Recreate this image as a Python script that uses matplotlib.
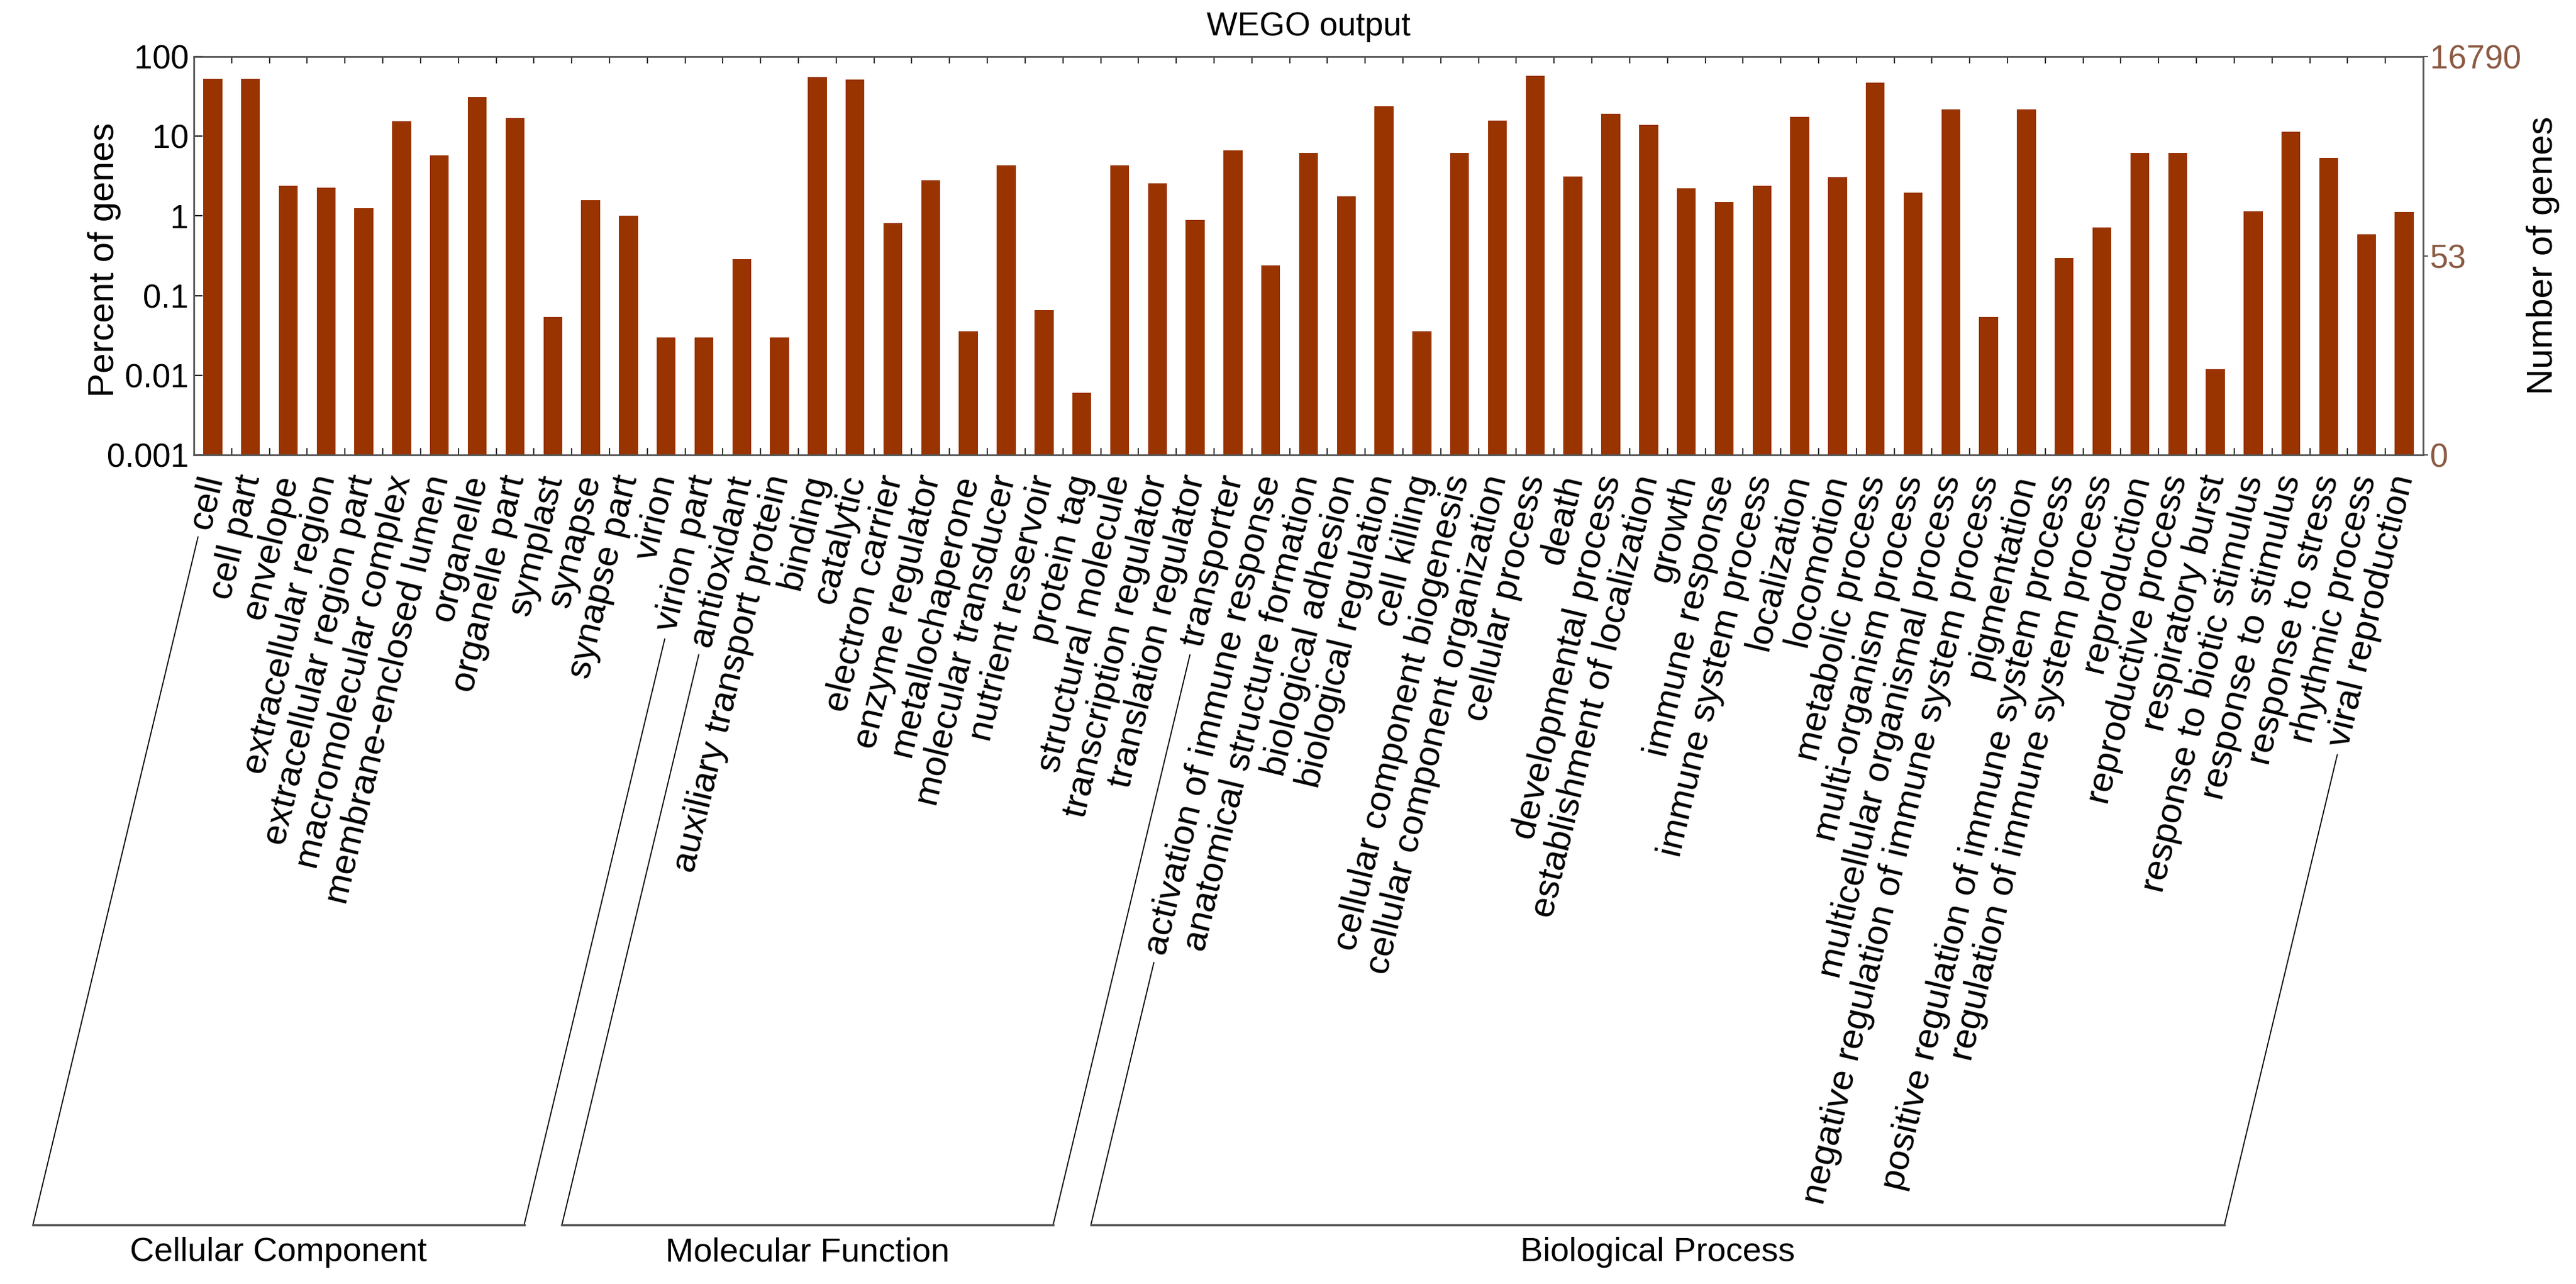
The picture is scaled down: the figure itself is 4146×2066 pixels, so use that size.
import matplotlib
matplotlib.use("Agg")
import matplotlib.pyplot as plt
import numpy as np
from matplotlib.lines import Line2D
from matplotlib.ticker import NullLocator

plt.rcParams['font.family'] = ['Liberation Sans', 'DejaVu Sans']

cellular_component = ["cell", "cell part", "envelope", "extracellular region",
                      "extracellular region part", "macromolecular complex",
                      "membrane-enclosed lumen", "organelle", "organelle part",
                      "symplast", "synapse", "synapse part", "virion", "virion part"]
molecular_function = ["antioxidant", "auxiliary transport protein", "binding", "catalytic",
                      "electron carrier", "enzyme regulator", "metallochaperone",
                      "molecular transducer", "nutrient reservoir", "protein tag",
                      "structural molecule", "transcription regulator",
                      "translation regulator", "transporter"]
biological_process = ["activation of immune response", "anatomical structure formation",
                      "biological adhesion", "biological regulation", "cell killing",
                      "cellular component biogenesis", "cellular component organization",
                      "cellular process", "death", "developmental process",
                      "establishment of localization", "growth", "immune response",
                      "immune system process", "localization", "locomotion",
                      "metabolic process", "multi-organism process",
                      "multicellular organismal process",
                      "negative regulation of immune system process", "pigmentation",
                      "positive regulation of immune system process",
                      "regulation of immune system process", "reproduction",
                      "reproductive process", "respiratory burst",
                      "response to biotic stimulus", "response to stimulus",
                      "response to stress", "rhythmic process", "viral reproduction"]

# percent of genes
cc_percent = [52.5, 52.5, 2.39, 2.24, 1.26, 15.5, 5.7, 30.9, 16.9,
              0.054, 1.58, 1.0, 0.0298, 0.0298]
mf_percent = [0.287, 0.0298, 55.0, 51.0, 0.81, 2.79, 0.0358, 4.34, 0.066,
              0.006, 4.34, 2.55, 0.887, 6.62]
bp_percent = [0.239, 6.15, 1.77, 23.9, 0.0358, 6.15, 15.7, 57.7, 3.12, 19.2,
              13.9, 2.22, 1.50, 2.37, 17.5, 3.06, 47.1, 1.97, 21.6, 0.054,
              21.6, 0.295, 0.719, 6.15, 6.15, 0.0119, 1.14, 11.3, 5.4, 0.587, 1.12]

group_names = ["Cellular Component", "Molecular Function", "Biological Process"]
total_genes = 16790
mid_genes = 53

categories = cellular_component + molecular_function + biological_process
percent = np.array(cc_percent + mf_percent + bp_percent)
group_sizes = [len(cellular_component), len(molecular_function), len(biological_process)]

bar_color = '#993300'
count_color = '#8b5a43'
spine_color = '#555555'
label_angle = 76.5

W, H = 4146, 2066
fig = plt.figure(figsize=(W / 100, H / 100), dpi=100)
ax = fig.add_axes([312 / W, 1 - 732 / H, (3900 - 312) / W, (732 - 91) / H])

x = np.arange(len(categories))
ymin, ymax = 1e-3, 100
ax.bar(x, percent - ymin, bottom=ymin, width=0.5, color=bar_color)
ax.set_yscale('log')
ax.set_ylim(ymin, ymax)
ax.set_xlim(-0.5, len(categories) - 0.5)

ax.set_yticks([0.001, 0.01, 0.1, 1, 10, 100])
ax.set_yticklabels(['0.001', '0.01', '0.1', '1', '10', '100'], fontsize=38)
ax.yaxis.set_minor_locator(NullLocator())
ax.tick_params(axis='y', which='major', direction='in', length=10, width=1.5, pad=6)

ax.set_xticks(x)
ax.set_xticklabels(categories, rotation=label_angle, ha='right', va='center',
                   rotation_mode='anchor', fontsize=42)
ax.tick_params(axis='x', which='major', length=0, pad=24)
ax.set_xticks(np.arange(0.5, len(categories) - 1), minor=True)
ax.tick_params(axis='x', which='minor', direction='in', top=True, bottom=True,
               length=8, width=1.5, color='#333333')

for s in ax.spines.values():
    s.set_color(spine_color)
    s.set_linewidth(2)

ax2 = ax.twinx()
ax2.set_yscale('log')
ax2.set_ylim(ymin, ymax)
ax2.set_yticks([ymin, 100 * mid_genes / total_genes, ymax])
ax2.set_yticklabels(['0', str(mid_genes), str(total_genes)], fontsize=38, color=count_color)
ax2.yaxis.set_minor_locator(NullLocator())
ax2.tick_params(axis='y', which='major', direction='out', length=6, width=1.5,
                color=spine_color, pad=2)
for s in ax2.spines.values():
    s.set_visible(False)

fig.text(2106 / W, 1 - 43 / H, "WEGO output", ha='center', va='center', fontsize=38)
fig.text(168 / W, 1 - 418 / H, "Percent of genes", ha='center', va='center',
         rotation=90, fontsize=42)
fig.text(4093 / W, 1 - 411 / H, "Number of genes", ha='center', va='center',
         rotation=90, fontsize=42)

# group brackets: slanted lines continue from the first/last label of each group
fig.canvas.draw()
renderer = fig.canvas.get_renderer()
labels = ax.get_xticklabels()
theta = np.deg2rad(label_angle)
d = np.array([np.cos(theta), np.sin(theta)])
y_bottom = H - 1971
gap = 14
to_fig = fig.transFigure.inverted()


def line_ends(idx):
    t = labels[idx]
    anchor = np.array(t.get_transform().transform(t.get_position()))
    w = renderer.get_text_width_height_descent(t.get_text(), t.get_fontproperties(), ismath=False)[0]
    start = anchor - (w + gap) * d
    end = start - ((start[1] - y_bottom) / d[1]) * d
    return start, end


first = 0
for name, size in zip(group_names, group_sizes):
    s0, e0 = line_ends(first)
    s1, e1 = line_ends(first + size - 1)
    slant = to_fig.transform(np.array([s0, e0, e1, s1]))
    fig.add_artist(Line2D(slant[:2, 0], slant[:2, 1], transform=fig.transFigure,
                          color='black', lw=1.3))
    fig.add_artist(Line2D(slant[2:, 0], slant[2:, 1], transform=fig.transFigure,
                          color='black', lw=1.3))
    fig.add_artist(Line2D(slant[1:3, 0], slant[1:3, 1], transform=fig.transFigure,
                          color='#555555', lw=2.5))
    fig.text((slant[1, 0] + slant[2, 0]) / 2, 1 - 2015 / H, name,
             ha='center', va='center', fontsize=39)
    first += size

fig.savefig("out.png", dpi=100)
